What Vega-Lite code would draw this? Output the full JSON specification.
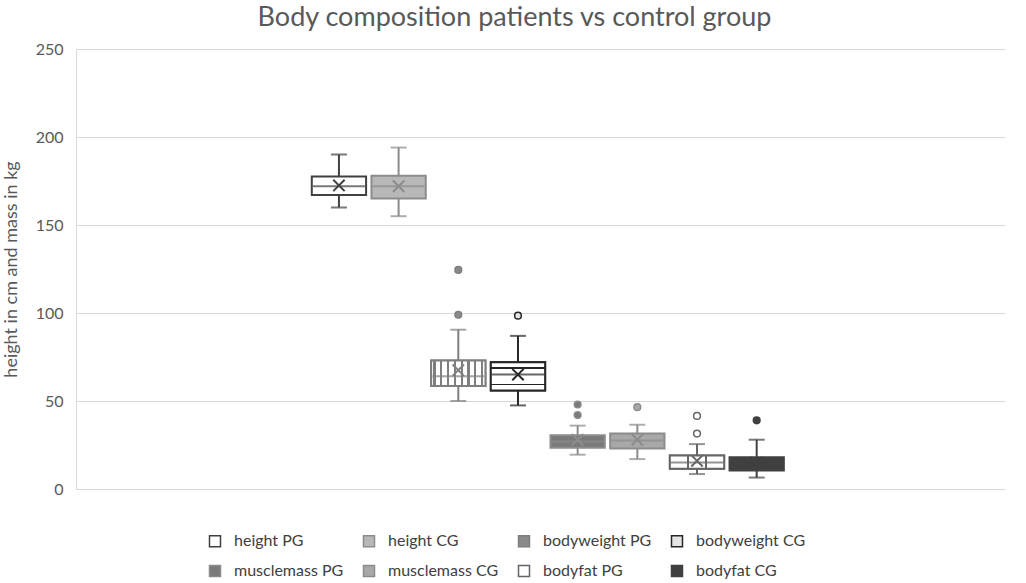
{
  "$schema": "https://vega.github.io/schema/vega-lite/v6.json",
  "width": 929,
  "height": 440,
  "padding": {"left": 2, "top": 4, "right": 21, "bottom": 5},
  "background": "white",
  "config": {"view": {"stroke": null}, "font": "Lato"},
  "title": {
    "text": "Body composition patients vs control group",
    "fontSize": 27,
    "fontWeight": "normal",
    "color": "#595959",
    "anchor": "middle",
    "dx": -26,
    "offset": 9
  },
  "datasets": {
    "boxes": [
      {"series": "height PG", "lower": 160, "q1": 167, "median": 172, "q3": 177.5, "upper": 190, "mean": 172.5},
      {"series": "height CG", "lower": 155, "q1": 165, "median": 172, "q3": 178, "upper": 194, "mean": 172},
      {"series": "bodyweight PG", "lower": 50, "q1": 58.5, "median": 64, "q3": 73, "upper": 90.5, "mean": 67.5},
      {"series": "bodyweight CG", "lower": 47.5, "q1": 56, "median": 65, "q3": 72, "upper": 87, "mean": 65},
      {"series": "musclemass PG", "lower": 19.5, "q1": 23.5, "median": 27, "q3": 30.5, "upper": 36, "mean": 28},
      {"series": "musclemass CG", "lower": 17, "q1": 23, "median": 27.5, "q3": 31.5, "upper": 36.5, "mean": 28},
      {"series": "bodyfat PG", "lower": 8.5, "q1": 11.5, "median": 15, "q3": 19, "upper": 25.5, "mean": 16},
      {"series": "bodyfat CG", "lower": 6.5, "q1": 10.5, "median": 14, "q3": 18, "upper": 28, "mean": 15}
    ],
    "outliers": [
      {"series": "bodyweight PG", "value": 124.5},
      {"series": "bodyweight PG", "value": 99},
      {"series": "bodyweight CG", "value": 98.5},
      {"series": "musclemass PG", "value": 48},
      {"series": "musclemass PG", "value": 42},
      {"series": "musclemass CG", "value": 46.5},
      {"series": "bodyfat PG", "value": 41.5},
      {"series": "bodyfat PG", "value": 31.5},
      {"series": "bodyfat CG", "value": 39}
    ]
  },
  "encoding": {
    "x": {
      "datum": "all",
      "type": "nominal",
      "axis": null,
      "scale": {"type": "band", "paddingInner": 0, "paddingOuter": 0.484, "align": 0.516}
    },
    "xOffset": {
      "field": "series",
      "type": "nominal",
      "scale": {
        "domain": ["height PG", "height CG", "bodyweight PG", "bodyweight CG", "musclemass PG", "musclemass CG", "bodyfat PG", "bodyfat CG"],
        "paddingInner": 0.09,
        "paddingOuter": 0
      }
    }
  },
  "layer": [
    {
      "data": {"name": "boxes"},
      "mark": {"type": "rule", "strokeWidth": 2},
      "encoding": {
        "y": {
          "field": "lower",
          "type": "quantitative",
          "scale": {"domain": [0, 250], "nice": false},
          "axis": {
            "values": [0, 50, 100, 150, 200, 250],
            "title": "height in cm and mass in kg",
            "titleFontSize": 18,
            "titleFontWeight": "normal",
            "titleColor": "#595959",
            "titlePadding": 15,
            "labelFontSize": 16,
            "labelColor": "#595959",
            "labelPadding": 13,
            "ticks": false,
            "gridColor": "#d9d9d9",
            "domainColor": "#d9d9d9"
          }
        },
        "y2": {"field": "upper"},
        "color": {
          "field": "series",
          "type": "nominal",
          "legend": null,
          "scale": {
            "domain": ["bodyfat CG", "bodyfat PG", "bodyweight CG", "bodyweight PG", "height CG", "height PG", "musclemass CG", "musclemass PG"],
            "range": ["#404040", "#666666", "#262626", "#7f7f7f", "#8c8c8c", "#404040", "#8c8c8c", "#8c8c8c"]
          }
        }
      }
    },
    {
      "data": {"name": "boxes"},
      "mark": {"type": "tick", "size": 16, "thickness": 2},
      "encoding": {
        "y": {"field": "lower", "type": "quantitative"},
        "color": {"field": "series", "type": "nominal", "legend": null}
      }
    },
    {
      "data": {"name": "boxes"},
      "mark": {"type": "tick", "size": 16, "thickness": 2},
      "encoding": {
        "y": {"field": "upper", "type": "quantitative"},
        "color": {"field": "series", "type": "nominal", "legend": null}
      }
    },
    {
      "data": {"name": "boxes"},
      "mark": {"type": "bar", "strokeWidth": 2, "opacity": 1},
      "encoding": {
        "y": {"field": "q1", "type": "quantitative"},
        "y2": {"field": "q3"},
        "fill": {
          "field": "series",
          "type": "nominal",
          "scale": {
            "domain": ["height PG", "height CG", "bodyweight PG", "bodyweight CG", "musclemass PG", "musclemass CG", "bodyfat PG", "bodyfat CG"],
            "range": ["#ffffff", "#b8b8b8", "#8a8a8a", "#e4e4e4", "#7a7a7a", "#a8a8a8", "#ffffff", "#404040"]
          },
          "legend": {
            "title": null,
            "orient": "none",
            "legendX": 131,
            "legendY": 484,
            "direction": "horizontal",
            "columns": 4,
            "symbolType": "square",
            "symbolSize": 121,
            "symbolStrokeWidth": 1.5,
            "labelFont": "Lato",
            "labelFontSize": 16,
            "labelColor": "#404040",
            "labelOffset": 11,
            "columnPadding": 16,
            "rowPadding": 12
          }
        },
        "stroke": {
          "field": "series",
          "type": "nominal",
          "scale": {
            "domain": ["height PG", "height CG", "bodyweight PG", "bodyweight CG", "musclemass PG", "musclemass CG", "bodyfat PG", "bodyfat CG"],
            "range": ["#404040", "#8c8c8c", "#7f7f7f", "#262626", "#8c8c8c", "#8c8c8c", "#666666", "#404040"]
          }
        }
      }
    },
    {
      "data": {"name": "boxes"},
      "transform": [{"filter": "datum.series === 'bodyweight PG'"}],
      "mark": {
        "type": "bar",
        "strokeWidth": 2,
        "stroke": "#7f7f7f",
        "fill": {
          "gradient": "linear", "x1": 0, "x2": 1, "y1": 0, "y2": 0,
          "stops": [
            {"offset": 0, "color": "#ffffff"}, {"offset": 0.0425, "color": "#ffffff"},
            {"offset": 0.0425, "color": "#7f7f7f"}, {"offset": 0.0825, "color": "#7f7f7f"},
            {"offset": 0.0825, "color": "#ffffff"}, {"offset": 0.1675, "color": "#ffffff"},
            {"offset": 0.1675, "color": "#7f7f7f"}, {"offset": 0.2075, "color": "#7f7f7f"},
            {"offset": 0.2075, "color": "#ffffff"}, {"offset": 0.2925, "color": "#ffffff"},
            {"offset": 0.2925, "color": "#7f7f7f"}, {"offset": 0.3325, "color": "#7f7f7f"},
            {"offset": 0.3325, "color": "#ffffff"}, {"offset": 0.4175, "color": "#ffffff"},
            {"offset": 0.4175, "color": "#7f7f7f"}, {"offset": 0.4575, "color": "#7f7f7f"},
            {"offset": 0.4575, "color": "#ffffff"}, {"offset": 0.5425, "color": "#ffffff"},
            {"offset": 0.5425, "color": "#7f7f7f"}, {"offset": 0.5825, "color": "#7f7f7f"},
            {"offset": 0.5825, "color": "#ffffff"}, {"offset": 0.6675, "color": "#ffffff"},
            {"offset": 0.6675, "color": "#7f7f7f"}, {"offset": 0.7075, "color": "#7f7f7f"},
            {"offset": 0.7075, "color": "#ffffff"}, {"offset": 0.7925, "color": "#ffffff"},
            {"offset": 0.7925, "color": "#7f7f7f"}, {"offset": 0.8325, "color": "#7f7f7f"},
            {"offset": 0.8325, "color": "#ffffff"}, {"offset": 0.9175, "color": "#ffffff"},
            {"offset": 0.9175, "color": "#7f7f7f"}, {"offset": 0.9575, "color": "#7f7f7f"},
            {"offset": 0.9575, "color": "#ffffff"}, {"offset": 1, "color": "#ffffff"}
          ]
        }
      },
      "encoding": {
        "y": {"field": "q1", "type": "quantitative"},
        "y2": {"field": "q3"}
      }
    },
    {
      "data": {"name": "boxes"},
      "transform": [{"filter": "datum.series === 'bodyweight CG'"}],
      "mark": {
        "type": "bar",
        "strokeWidth": 2,
        "stroke": "#262626",
        "fill": {
          "gradient": "linear", "x1": 0, "x2": 0, "y1": 0, "y2": 1,
          "stops": [
            {"offset": 0, "color": "#ffffff"}, {"offset": 0.18, "color": "#ffffff"},
            {"offset": 0.18, "color": "#262626"}, {"offset": 0.23, "color": "#262626"},
            {"offset": 0.23, "color": "#ffffff"}, {"offset": 0.77, "color": "#ffffff"},
            {"offset": 0.77, "color": "#262626"}, {"offset": 0.82, "color": "#262626"},
            {"offset": 0.82, "color": "#ffffff"}, {"offset": 1, "color": "#ffffff"}
          ]
        }
      },
      "encoding": {
        "y": {"field": "q1", "type": "quantitative"},
        "y2": {"field": "q3"}
      }
    },
    {
      "data": {"name": "boxes"},
      "transform": [{"filter": "datum.series === 'bodyfat PG'"}],
      "mark": {
        "type": "bar",
        "strokeWidth": 2,
        "stroke": "#666666",
        "fill": {
          "gradient": "linear", "x1": 0, "x2": 1, "y1": 0, "y2": 0,
          "stops": [
            {"offset": 0, "color": "#ffffff"}, {"offset": 0.32, "color": "#ffffff"},
            {"offset": 0.32, "color": "#666666"}, {"offset": 0.35, "color": "#666666"},
            {"offset": 0.35, "color": "#ffffff"}, {"offset": 0.65, "color": "#ffffff"},
            {"offset": 0.65, "color": "#666666"}, {"offset": 0.68, "color": "#666666"},
            {"offset": 0.68, "color": "#ffffff"}, {"offset": 1, "color": "#ffffff"}
          ]
        }
      },
      "encoding": {
        "y": {"field": "q1", "type": "quantitative"},
        "y2": {"field": "q3"}
      }
    },
    {
      "data": {"name": "boxes"},
      "mark": {"type": "tick", "size": 52, "thickness": 2},
      "encoding": {
        "y": {"field": "median", "type": "quantitative"},
        "color": {"field": "series", "type": "nominal", "legend": null}
      }
    },
    {
      "data": {"name": "boxes"},
      "mark": {"type": "point", "shape": "M -1 -1 L 1 1 M -1 1 L 1 -1", "filled": false, "size": 130, "strokeWidth": 2, "opacity": 1},
      "encoding": {
        "y": {"field": "mean", "type": "quantitative"},
        "color": {"field": "series", "type": "nominal", "legend": null}
      }
    },
    {
      "data": {"name": "outliers"},
      "mark": {"type": "point", "shape": "circle", "size": 45, "strokeWidth": 1.5, "opacity": 1},
      "encoding": {
        "y": {"field": "value", "type": "quantitative"},
        "fill": {"field": "series", "type": "nominal"},
        "stroke": {"field": "series", "type": "nominal"}
      }
    }
  ]
}
